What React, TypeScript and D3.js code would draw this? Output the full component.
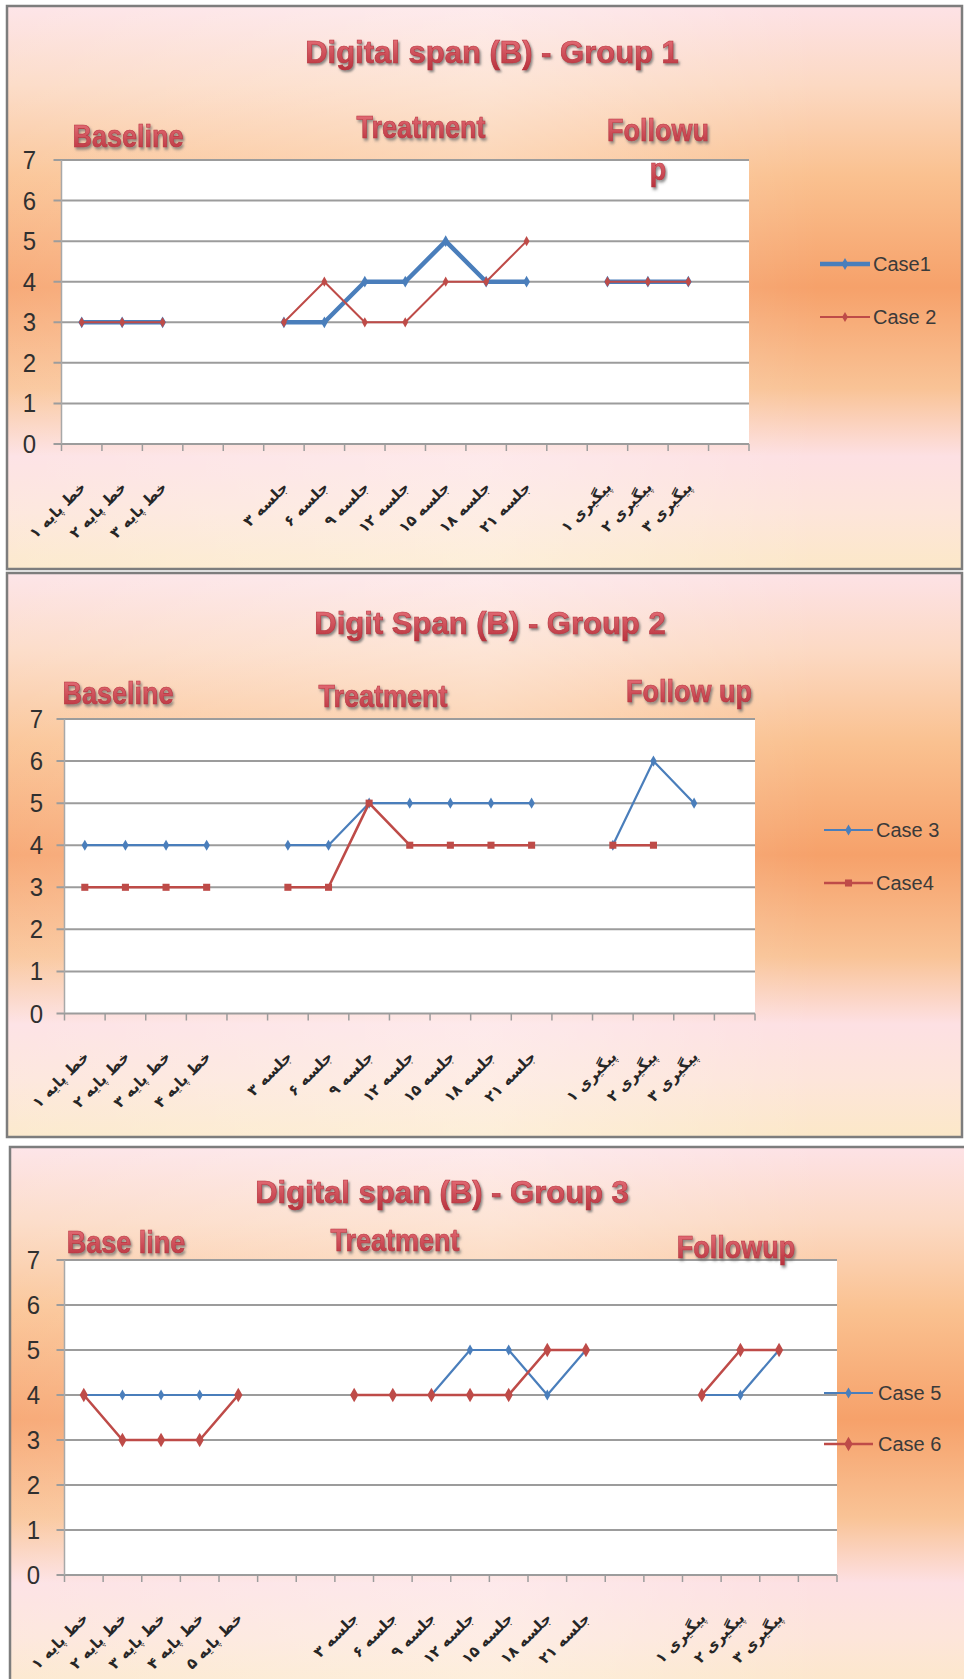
import React from "react";
import * as d3 from "d3";

const W = 964;
const H = 1679;

// x-axis tick labels
const baseline3 = ["خط پایه ۱", "خط پایه ۲", "خط پایه ۳"];
const baseline4 = [...baseline3, "خط پایه ۴"];
const baseline5 = [...baseline4, "خط پایه ۵"];
const sessions = ["جلسه ۳", "جلسه ۶", "جلسه ۹", "جلسه ۱۲", "جلسه ۱۵", "جلسه ۱۸", "جلسه ۲۱"];
const followups = ["پیگیری ۱", "پیگیری ۲", "پیگیری ۳"];

// empty strings = empty categories between phases
const cats1 = [...baseline3, "", "", ...sessions, "", ...followups, ""];
const cats2 = [...baseline4, "", ...sessions, "", ...followups, ""];
const cats3 = [...baseline5, "", "", ...sessions, "", "", ...followups, ""];

// series values (null = no point)
const case1 = [3, 3, 3, null, null, 3, 3, 4, 4, 5, 4, 4, null, 4, 4, 4, null];
const case2 = [3, 3, 3, null, null, 3, 4, 3, 3, 4, 4, 5, null, 4, 4, 4, null];
const case3 = [4, 4, 4, 4, null, 4, 4, 5, 5, 5, 5, 5, null, 4, 6, 5, null];
const case4 = [3, 3, 3, 3, null, 3, 3, 5, 4, 4, 4, 4, null, 4, 4, null, null];
const case5 = [4, 4, 4, 4, 4, null, null, 4, 4, 4, 5, 5, 4, 5, null, null, 4, 4, 5, null];
const case6 = [4, 3, 3, 3, 4, null, null, 4, 4, 4, 4, 4, 5, 5, null, null, 4, 5, 5, null];

const yTicks = [0, 1, 2, 3, 4, 5, 6, 7];

const BLUE = "#4a7ebb";
const RED = "#be4b48";

const panels = [
  {
    title: "Digital span (B) - Group 1", tx: 492, ty: 63,
    box: { x: 7, y: 6, w: 955, h: 563 },
    plot: { l: 61.5, r: 749, t: 160, b: 444 },
    cats: cats1,
    phases: [
      { text: "Baseline", x: 128, y: 147 },
      { text: "Treatment", x: 421, y: 138 },
      { text: "Followu", x: 658, y: 141 },
      { text: "p", x: 658, y: 180 },
    ],
    series: [
      { name: "Case1", values: case1, color: BLUE, width: 4.5, sym: d3.symbolDiamond, size: 40 },
      { name: "Case 2", values: case2, color: RED, width: 2, sym: d3.symbolDiamond, size: 30 },
    ],
    legend: { x0: 820, x1: 870, tx: 873, ys: [264, 317] },
    yLabelX: 36,
  },
  {
    title: "Digit Span (B) - Group 2", tx: 490, ty: 634,
    box: { x: 7, y: 573, w: 955, h: 564 },
    plot: { l: 64.5, r: 755, t: 719, b: 1013.5 },
    cats: cats2,
    phases: [
      { text: "Baseline", x: 118, y: 704 },
      { text: "Treatment", x: 383, y: 707 },
      { text: "Follow up", x: 689, y: 702 },
    ],
    series: [
      { name: "Case 3", values: case3, color: BLUE, width: 2.2, sym: d3.symbolDiamond, size: 36 },
      { name: "Case4", values: case4, color: RED, width: 2.6, sym: d3.symbolSquare, size: 50 },
    ],
    legend: { x0: 824, x1: 873, tx: 876, ys: [830, 883] },
    yLabelX: 43,
  },
  {
    title: "Digital span (B) - Group 3", tx: 442, ty: 1203,
    box: { x: 10, y: 1147, w: 960, h: 545 },
    plot: { l: 64.5, r: 837, t: 1260, b: 1575 },
    cats: cats3,
    phases: [
      { text: "Base line", x: 126, y: 1253 },
      { text: "Treatment", x: 395, y: 1251 },
      { text: "Followup", x: 736, y: 1258 },
    ],
    series: [
      { name: "Case 5", values: case5, color: BLUE, width: 2.2, sym: d3.symbolDiamond, size: 36 },
      { name: "Case 6", values: case6, color: RED, width: 2.6, sym: d3.symbolDiamond, size: 60 },
    ],
    legend: { x0: 824, x1: 873, tx: 878, ys: [1393, 1444] },
    yLabelX: 40,
  },
];

const STxt = ({ x, y, sy = 1, children, ...rest }: any) => (
  <g transform={`translate(${x},${y}) scale(1,${sy})`}>
    <text x={0} y={0} {...rest}>{children}</text>
  </g>
);

function Panel({ cfg }: any) {
  const { box, plot, cats, series, legend } = cfg;
  const x = d3.scaleBand<number>().domain(d3.range(cats.length)).range([plot.l, plot.r]);
  const y = d3.scaleLinear().domain([0, 7]).range([plot.b, plot.t]);
  const cx = (i: number) => (x(i) as number) + x.bandwidth() / 2;
  const line = d3.line<number | null>()
    .defined((d) => d != null)
    .x((d, i) => cx(i))
    .y((d) => y(d as number));
  const bounds = d3.range(cats.length + 1).map((i) => plot.l + i * x.bandwidth());

  return (
    <g>
      <rect x={box.x} y={box.y} width={box.w} height={box.h} fill="url(#bgV)" />
      <rect x={box.x} y={box.y} width={box.w} height={box.h} fill="url(#bgH)" stroke="#7d7d7d" strokeWidth={2.5} />

      {/* title */}
      <text x={cfg.tx} y={cfg.ty} textAnchor="middle" fontFamily="Liberation Sans, Arial" fontWeight="bold"
        fontSize={31} fill="url(#titleFill)" stroke="#b8323d" strokeWidth={0.6} filter="url(#shadow)">{cfg.title}</text>

      {/* plot area */}
      <rect x={plot.l} y={plot.t} width={plot.r - plot.l} height={plot.b - plot.t} fill="#ffffff" />
      {yTicks.map((t) => (
        <line key={t} x1={plot.l - 8} x2={plot.r} y1={y(t)} y2={y(t)} stroke="#9c9c9c" strokeWidth={2} />
      ))}
      <line x1={plot.l} x2={plot.l} y1={plot.t} y2={plot.b} stroke="#a8a8a8" strokeWidth={1.5} />
      {bounds.map((bx, i) => (
        <line key={i} x1={bx} x2={bx} y1={plot.b} y2={plot.b + 7} stroke="#9c9c9c" strokeWidth={1.5} />
      ))}
      {yTicks.map((t) => (
        <STxt key={t} x={cfg.yLabelX} y={y(t) + 9} sy={1.1} textAnchor="end" fontFamily="Liberation Sans, Arial"
          fontSize={24} fill="#303030">{t}</STxt>
      ))}

      {/* x labels */}
      {cats.map((c: string, i: number) => c === "" ? null : (
        <text key={i} transform={`translate(${cx(i) + 5},${plot.b + 44}) rotate(-45)`} textAnchor="end"
          fontFamily="DejaVu Sans" fontWeight="bold" fontSize={15} fill="#262626">{c}</text>
      ))}

      {/* series */}
      {series.map((s: any) => (
        <g key={s.name}>
          <path d={line(s.values) || ""} fill="none" stroke={s.color} strokeWidth={s.width} strokeLinejoin="round" />
          {s.values.map((v: number | null, i: number) => v == null ? null : (
            <path key={i} transform={`translate(${cx(i)},${y(v)})`} d={d3.symbol(s.sym, s.size)() || ""} fill={s.color} />
          ))}
        </g>
      ))}

      {/* legend */}
      {series.map((s: any, k: number) => (
        <g key={s.name}>
          <line x1={legend.x0} x2={legend.x1} y1={legend.ys[k]} y2={legend.ys[k]} stroke={s.color} strokeWidth={s.width} />
          <path transform={`translate(${(legend.x0 + legend.x1) / 2},${legend.ys[k]})`} d={d3.symbol(s.sym, s.size)() || ""} fill={s.color} />
          <text x={legend.tx} y={legend.ys[k] + 7} fontFamily="Liberation Sans, Arial" fontSize={20} fill="#3a3a3a">{s.name}</text>
        </g>
      ))}

      {/* phase labels (on top, "p" overlaps the plot area) */}
      {cfg.phases.map((p: any, i: number) => (
        <STxt key={i} x={p.x} y={p.y} sy={1.15} textAnchor="middle" fontFamily="Liberation Sans, Arial"
          fontWeight="bold" fontSize={27} fill="url(#titleFill)" stroke="#b8323d" strokeWidth={0.5}
          filter="url(#shadow)">{p.text}</STxt>
      ))}
    </g>
  );
}

export default function App() {
  return (
    <svg width={W} height={H} style={{ position: "absolute", left: 0, top: 0 }}>
      <defs>
        <linearGradient id="bgV" x1="0" y1="0" x2="0" y2="1">
          <stop offset="0" stopColor="#fde2e6" />
          <stop offset="0.14" stopColor="#fcd9c3" />
          <stop offset="0.3" stopColor="#fac190" />
          <stop offset="0.5" stopColor="#f6a16a" />
          <stop offset="0.68" stopColor="#f9c396" />
          <stop offset="0.8" stopColor="#fde0e3" />
          <stop offset="0.9" stopColor="#fde5da" />
          <stop offset="1" stopColor="#fce8c8" />
        </linearGradient>
        <linearGradient id="bgH" x1="0" y1="0" x2="1" y2="0">
          <stop offset="0" stopColor="#ffffff" stopOpacity="0.1" />
          <stop offset="0.5" stopColor="#ffffff" stopOpacity="0.3" />
          <stop offset="0.85" stopColor="#ffffff" stopOpacity="0" />
          <stop offset="1" stopColor="#ffffff" stopOpacity="0" />
        </linearGradient>
        <linearGradient id="titleFill" x1="0" y1="0" x2="0" y2="1">
          <stop offset="0" stopColor="#e8737c" />
          <stop offset="1" stopColor="#b8323d" />
        </linearGradient>
        <filter id="shadow" x="-10%" y="-30%" width="120%" height="170%">
          <feDropShadow dx="1.5" dy="2" stdDeviation="1.2" floodColor="#6b6b6b" floodOpacity="0.8" />
        </filter>
      </defs>
      <rect width={W} height={H} fill="#ffffff" />
      {panels.map((p, i) => <Panel key={i} cfg={p} />)}
    </svg>
  );
}
